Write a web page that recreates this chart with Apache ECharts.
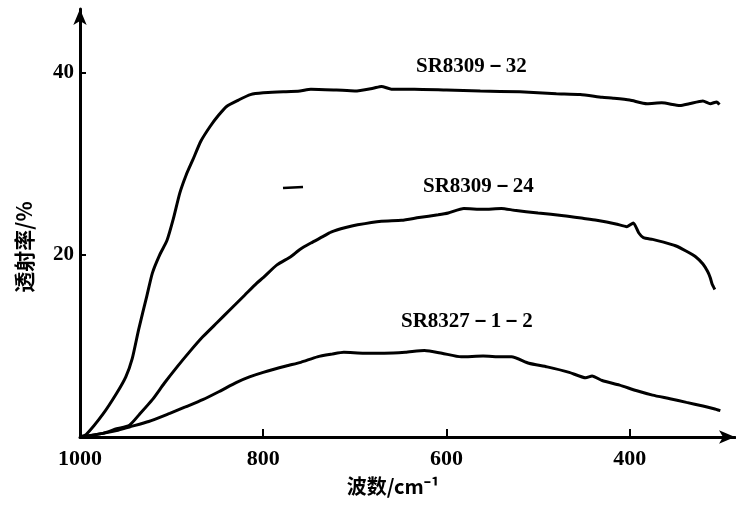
<!DOCTYPE html>
<html>
<head>
<meta charset="utf-8">
<script src="https://cdn.jsdelivr.net/npm/echarts@6/dist/echarts.min.js"></script>
<style>html,body{margin:0;padding:0;background:#fff;}#c{width:736px;height:506px;}</style>
</head>
<body>
<div id="c"></div>
<script>
// [wavenumber cm-1, transmittance %]
var sr8309_32 = [[1000,0],[993,0.3],[975,2.5],[960,4.8],[950,6.6],[943,8.6],[936,11.8],[927,15.5],[921,18.0],[913,20],[905,21.6],[898,24],[891,26.8],[884,28.8],[877,30.4],[868,32.5],[858,34.1],[849,35.3],[840,36.3],[827,37.0],[814,37.6],[800,37.8],[778,37.9],[760,38.0],[748,38.2],[720,38.1],[700,38.0],[680,38.3],[671,38.5],[660,38.2],[635,38.2],[600,38.1],[563,38.0],[520,37.9],[480,37.7],[454,37.6],[430,37.3],[418,37.2],[400,37.0],[381,36.6],[365,36.7],[345,36.4],[335,36.6],[320,36.9],[312,36.6],[305,36.8],[302,36.5]];
var sr8309_24 = [[1000,0],[975,0.4],[960,0.9],[946,1.3],[935,2.5],[921,4.1],[908,5.9],[894,7.7],[880,9.4],[866,11.0],[850,12.6],[836,14.0],[820,15.6],[807,16.9],[800,17.5],[785,18.9],[770,19.8],[760,20.6],[748,21.3],[735,22.0],[726,22.5],[710,23.0],[697,23.3],[671,23.7],[649,23.8],[630,24.1],[609,24.4],[598,24.6],[581,25.1],[560,25.0],[540,25.1],[526,24.9],[500,24.6],[472,24.3],[450,24.0],[436,23.8],[415,23.4],[403,23.1],[396,23.5],[390,22.4],[385,21.9],[375,21.7],[363,21.4],[350,21.0],[338,20.4],[328,19.8],[320,19.0],[315,18.2],[312,17.5],[310,16.8],[307,16.2]];
var sr8327_1_2 = [[1000,0],[975,0.4],[960,0.7],[946,1.1],[925,1.7],[902,2.6],[885,3.3],[866,4.1],[848,5.0],[829,6.0],[815,6.6],[800,7.1],[775,7.8],[759,8.2],[741,8.8],[725,9.1],[712,9.3],[690,9.2],[668,9.2],[645,9.3],[624,9.5],[605,9.2],[584,8.8],[560,8.9],[540,8.8],[529,8.8],[510,8.1],[490,7.7],[466,7.1],[448,6.5],[441,6.7],[430,6.2],[411,5.7],[393,5.1],[375,4.6],[356,4.2],[338,3.8],[320,3.4],[308,3.1],[301,2.9]];
var seriesNames = ['SR8309－32','SR8309－24','SR8327－1－2'];
var xTicks = [1000, 800, 600, 400];
var yTicks = [20, 40];

var chart = echarts.init(document.getElementById('c'));
var numFont = {fontFamily:'"Liberation Serif",serif', fontWeight:'bold', color:'#000'};
function line(name, data){
  return {name:name, type:'line', data:data, symbol:'none', smooth:0.2,
    lineStyle:{color:'#000', width:3}, animation:false};
}
chart.setOption({
  animation:false,
  backgroundColor:'#fff',
  grid:{left:80, right:1, top:9, bottom:69},
  xAxis:{type:'value', inverse:true, min:285, max:1000,
    axisLine:{lineStyle:{color:'#000', width:3}, symbol:['none','arrow'], symbolSize:[10,16]},
    axisTick:{inside:true, length:8, lineStyle:{color:'#000', width:2}, customValues:[800,600,400]},
    axisLabel:Object.assign({margin:11, fontSize:22, customValues:xTicks, formatter:function(v){return String(v);}}, numFont),
    splitLine:{show:false}},
  yAxis:{type:'value', min:0, max:47,
    axisLine:{show:true, lineStyle:{color:'#000', width:3}, symbol:['none','arrow'], symbolSize:[10,16]},
    axisTick:{show:true, inside:true, length:6, lineStyle:{color:'#000', width:2}, customValues:yTicks},
    axisLabel:Object.assign({margin:6, fontSize:21, customValues:yTicks, formatter:function(v){return String(v);}}, numFont),
    splitLine:{show:false}},
  series:[line(seriesNames[0], sr8309_32), line(seriesNames[1], sr8309_24), line(seriesNames[2], sr8327_1_2)],
  graphic:[
    {type:'text', left:416, top:56, style:{text:seriesNames[0], font:'bold 21px "Liberation Serif"', fill:'#000'}},
    {type:'text', left:423, top:176, style:{text:seriesNames[1], font:'bold 21px "Liberation Serif"', fill:'#000'}},
    {type:'text', left:401, top:311, style:{text:seriesNames[2], font:'bold 21px "Liberation Serif"', fill:'#000'}},
    {type:'line', shape:{x1:283, y1:188, x2:303, y2:187}, style:{stroke:'#000', lineWidth:2.5}},
    {type:'text', x:393, y:486, style:{text:'波数/cm⁻¹', font:'bold 20px "Noto Sans CJK SC"', fill:'#000', align:'center', verticalAlign:'middle'}},
    {type:'text', x:24, y:247, rotation:Math.PI/2, style:{text:'透射率/%', font:'bold 21px "Noto Sans CJK SC"', fill:'#000', align:'center', verticalAlign:'middle'}}
  ]
});
</script>
</body>
</html>
